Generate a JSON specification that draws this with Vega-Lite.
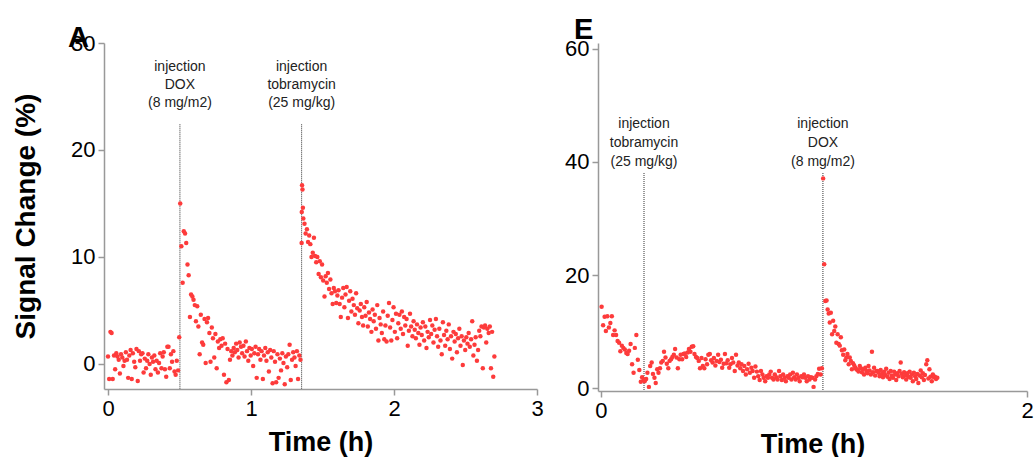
{
"$schema": "https://vega.github.io/schema/vega-lite/v6.json",
"background": "white",
"padding": {"left": 12, "top": 15, "right": 5, "bottom": 0},
"bounds": "flush",
"spacing": 61,
"config": {
 "font": "Liberation Sans",
 "view": {"stroke": null},
 "axis": {"grid": false, "domainColor": "#999999", "tickColor": "#999999", "domainWidth": 1.5, "tickWidth": 1.5, "tickSize": 6, "labelFont": "Liberation Sans", "labelFontSize": 22, "labelColor": "#000000", "labelPadding": 3, "labelFlush": false, "titleFont": "Liberation Sans", "titleFontSize": 27, "titleFontWeight": "bold", "titleColor": "#000000"},
 "axisX": {"titlePadding": 10},
 "axisY": {"titlePadding": 30, "titleFontSize": 28},
 "title": {"font": "Liberation Sans", "fontSize": 29, "fontWeight": "bold", "color": "#000000", "anchor": "start", "frame": "group"}
},
"datasets": {
 "a": [
{"t":0.000,"v":0.7},{"t":0.008,"v":-1.4},{"t":0.017,"v":3.0},{"t":0.025,"v":2.9},{"t":0.033,"v":-1.4},{"t":0.042,"v":0.8},{"t":0.050,"v":-0.5},{"t":0.058,"v":1.0},{"t":0.066,"v":0.7},{"t":0.075,"v":0.4},
{"t":0.083,"v":-0.9},{"t":0.091,"v":0.9},{"t":0.100,"v":0.6},{"t":0.108,"v":-0.2},{"t":0.116,"v":0.3},{"t":0.125,"v":1.1},{"t":0.133,"v":0.4},{"t":0.141,"v":-1.3},{"t":0.149,"v":0.8},{"t":0.158,"v":1.3},
{"t":0.166,"v":-1.4},{"t":0.174,"v":1.0},{"t":0.183,"v":0.2},{"t":0.191,"v":-0.3},{"t":0.199,"v":1.4},{"t":0.208,"v":-1.6},{"t":0.216,"v":1.2},{"t":0.224,"v":0.3},{"t":0.232,"v":0.9},{"t":0.241,"v":1.0},
{"t":0.249,"v":-0.8},{"t":0.257,"v":0.5},{"t":0.266,"v":-0.4},{"t":0.274,"v":0.3},{"t":0.282,"v":0.9},{"t":0.291,"v":0.0},{"t":0.299,"v":-1.0},{"t":0.307,"v":0.6},{"t":0.315,"v":0.2},{"t":0.324,"v":0.8},
{"t":0.332,"v":-0.5},{"t":0.340,"v":0.3},{"t":0.349,"v":-0.8},{"t":0.357,"v":0.1},{"t":0.365,"v":1.0},{"t":0.374,"v":-0.4},{"t":0.382,"v":0.7},{"t":0.390,"v":1.1},{"t":0.398,"v":-0.5},{"t":0.407,"v":-1.2},
{"t":0.415,"v":1.6},{"t":0.423,"v":1.6},{"t":0.432,"v":-0.4},{"t":0.440,"v":0.9},{"t":0.448,"v":0.2},{"t":0.457,"v":1.2},{"t":0.465,"v":-0.7},{"t":0.473,"v":-1.0},{"t":0.481,"v":0.3},{"t":0.490,"v":-0.6},
{"t":0.498,"v":2.5},
{"t":0.505,"v":15.0},{"t":0.513,"v":11.0},{"t":0.522,"v":7.6},{"t":0.530,"v":12.4},{"t":0.539,"v":12.2},{"t":0.547,"v":11.3},{"t":0.556,"v":9.3},{"t":0.564,"v":8.3},{"t":0.573,"v":4.4},{"t":0.581,"v":6.5},
{"t":0.590,"v":6.3},{"t":0.598,"v":6.0},{"t":0.607,"v":5.5},{"t":0.615,"v":4.0},{"t":0.624,"v":5.4},{"t":0.632,"v":3.5},{"t":0.641,"v":0.9},{"t":0.649,"v":4.6},{"t":0.658,"v":2.0},{"t":0.666,"v":1.8},
{"t":0.675,"v":4.2},{"t":0.683,"v":0.1},{"t":0.692,"v":3.9},{"t":0.700,"v":4.3},{"t":0.709,"v":2.9},{"t":0.717,"v":0.2},{"t":0.726,"v":3.4},{"t":0.734,"v":2.4},{"t":0.743,"v":0.6},{"t":0.751,"v":2.8},
{"t":0.760,"v":-0.4},{"t":0.768,"v":2.1},{"t":0.777,"v":1.5},{"t":0.785,"v":2.3},{"t":0.794,"v":1.7},{"t":0.802,"v":2.4},{"t":0.811,"v":-1.0},{"t":0.819,"v":1.9},{"t":0.828,"v":-1.7},{"t":0.836,"v":1.4},
{"t":0.845,"v":-1.5},{"t":0.853,"v":0.4},{"t":0.862,"v":1.2},{"t":0.870,"v":0.8},{"t":0.879,"v":1.5},{"t":0.887,"v":1.1},{"t":0.896,"v":1.9},{"t":0.904,"v":1.3},{"t":0.913,"v":0.6},{"t":0.921,"v":2.0},
{"t":0.930,"v":1.6},{"t":0.938,"v":1.0},{"t":0.947,"v":1.7},{"t":0.955,"v":0.7},{"t":0.964,"v":2.1},{"t":0.972,"v":1.2},{"t":0.981,"v":0.3},{"t":0.989,"v":1.5},{"t":0.998,"v":0.8},{"t":1.006,"v":1.4},
{"t":1.015,"v":-0.2},{"t":1.023,"v":1.0},{"t":1.032,"v":1.6},{"t":1.040,"v":-1.3},{"t":1.049,"v":0.9},{"t":1.057,"v":1.4},{"t":1.066,"v":0.4},{"t":1.074,"v":1.2},{"t":1.083,"v":-1.4},{"t":1.091,"v":0.8},
{"t":1.100,"v":1.5},{"t":1.108,"v":0.3},{"t":1.117,"v":1.1},{"t":1.125,"v":-0.7},{"t":1.134,"v":1.3},{"t":1.142,"v":0.6},{"t":1.151,"v":-1.8},{"t":1.159,"v":1.2},{"t":1.168,"v":0.2},{"t":1.176,"v":-1.7},
{"t":1.185,"v":0.9},{"t":1.193,"v":-1.3},{"t":1.202,"v":0.5},{"t":1.210,"v":-0.6},{"t":1.219,"v":1.0},{"t":1.227,"v":0.1},{"t":1.236,"v":-1.9},{"t":1.244,"v":0.7},{"t":1.253,"v":-0.3},{"t":1.261,"v":0.9},
{"t":1.270,"v":1.8},{"t":1.278,"v":-1.5},{"t":1.287,"v":0.4},{"t":1.295,"v":1.1},{"t":1.304,"v":0.6},{"t":1.312,"v":-0.2},{"t":1.321,"v":1.2},{"t":1.329,"v":-1.4},{"t":1.338,"v":0.8},{"t":1.346,"v":0.4},
{"t":1.354,"v":11.3},{"t":1.355,"v":14.2},{"t":1.357,"v":16.7},{"t":1.360,"v":16.3},{"t":1.363,"v":14.6},
{"t":1.366,"v":13.6},{"t":1.374,"v":13.1},{"t":1.382,"v":12.2},{"t":1.391,"v":12.6},{"t":1.399,"v":11.4},{"t":1.407,"v":12.0},{"t":1.415,"v":11.2},{"t":1.423,"v":10.0},{"t":1.432,"v":10.4},{"t":1.440,"v":11.8},
{"t":1.448,"v":10.1},{"t":1.456,"v":9.5},{"t":1.464,"v":10.0},{"t":1.473,"v":8.4},{"t":1.481,"v":9.6},{"t":1.489,"v":8.1},{"t":1.497,"v":9.3},{"t":1.505,"v":7.8},{"t":1.514,"v":6.3},{"t":1.522,"v":8.2},
{"t":1.530,"v":7.6},{"t":1.538,"v":8.5},{"t":1.546,"v":7.0},{"t":1.555,"v":7.9},{"t":1.563,"v":6.6},{"t":1.571,"v":5.6},{"t":1.579,"v":7.1},{"t":1.587,"v":6.8},{"t":1.596,"v":5.7},{"t":1.604,"v":6.4},
{"t":1.612,"v":6.9},{"t":1.620,"v":5.6},{"t":1.628,"v":4.4},{"t":1.637,"v":6.2},{"t":1.645,"v":7.1},{"t":1.653,"v":5.3},{"t":1.661,"v":6.5},{"t":1.669,"v":7.2},{"t":1.678,"v":4.3},{"t":1.686,"v":5.9},
{"t":1.694,"v":6.8},{"t":1.702,"v":4.9},{"t":1.710,"v":6.1},{"t":1.719,"v":5.5},{"t":1.727,"v":4.6},{"t":1.735,"v":6.6},{"t":1.743,"v":5.2},{"t":1.751,"v":3.8},{"t":1.760,"v":5.0},{"t":1.768,"v":5.6},
{"t":1.776,"v":4.4},{"t":1.784,"v":3.6},{"t":1.792,"v":5.3},{"t":1.801,"v":4.5},{"t":1.809,"v":5.8},{"t":1.817,"v":3.5},{"t":1.825,"v":4.8},{"t":1.833,"v":4.2},{"t":1.842,"v":3.0},{"t":1.850,"v":5.1},
{"t":1.858,"v":4.0},{"t":1.866,"v":4.6},{"t":1.874,"v":3.3},{"t":1.883,"v":5.5},{"t":1.891,"v":2.2},{"t":1.899,"v":4.3},{"t":1.907,"v":3.7},{"t":1.915,"v":2.9},{"t":1.924,"v":4.9},{"t":1.932,"v":2.3},
{"t":1.940,"v":3.6},{"t":1.948,"v":2.1},{"t":1.956,"v":4.5},{"t":1.965,"v":5.7},{"t":1.973,"v":3.4},{"t":1.981,"v":2.2},{"t":1.989,"v":4.1},{"t":1.997,"v":5.3},{"t":2.006,"v":3.0},{"t":2.014,"v":4.7},
{"t":2.022,"v":2.4},{"t":2.030,"v":3.8},{"t":2.038,"v":4.6},{"t":2.047,"v":3.3},{"t":2.055,"v":4.9},{"t":2.063,"v":2.8},{"t":2.071,"v":4.4},{"t":2.079,"v":3.6},{"t":2.088,"v":4.2},{"t":2.096,"v":1.7},
{"t":2.104,"v":3.1},{"t":2.112,"v":4.7},{"t":2.120,"v":3.5},{"t":2.129,"v":2.6},{"t":2.137,"v":4.0},{"t":2.145,"v":3.2},{"t":2.153,"v":2.4},{"t":2.161,"v":3.7},{"t":2.170,"v":2.9},{"t":2.178,"v":1.8},
{"t":2.186,"v":3.4},{"t":2.194,"v":2.7},{"t":2.202,"v":3.9},{"t":2.211,"v":2.2},{"t":2.219,"v":3.5},{"t":2.227,"v":1.5},{"t":2.235,"v":3.0},{"t":2.243,"v":2.5},{"t":2.252,"v":4.1},{"t":2.260,"v":2.8},
{"t":2.268,"v":3.6},{"t":2.276,"v":2.0},{"t":2.284,"v":3.2},{"t":2.293,"v":4.2},{"t":2.301,"v":2.6},{"t":2.309,"v":1.6},{"t":2.317,"v":3.3},{"t":2.325,"v":2.2},{"t":2.334,"v":0.9},{"t":2.342,"v":3.9},
{"t":2.350,"v":2.7},{"t":2.358,"v":1.7},{"t":2.366,"v":3.1},{"t":2.375,"v":2.3},{"t":2.383,"v":3.7},{"t":2.391,"v":1.4},{"t":2.399,"v":2.6},{"t":2.407,"v":0.5},{"t":2.416,"v":3.0},{"t":2.424,"v":2.1},
{"t":2.432,"v":2.8},{"t":2.440,"v":1.1},{"t":2.448,"v":2.4},{"t":2.457,"v":3.3},{"t":2.465,"v":1.7},{"t":2.473,"v":2.6},{"t":2.481,"v":-0.1},{"t":2.489,"v":2.2},{"t":2.498,"v":1.3},{"t":2.506,"v":2.5},
{"t":2.514,"v":1.9},{"t":2.522,"v":2.9},{"t":2.530,"v":1.6},{"t":2.539,"v":2.3},{"t":2.547,"v":4.0},{"t":2.555,"v":0.8},{"t":2.563,"v":1.8},{"t":2.571,"v":2.5},{"t":2.580,"v":0.3},{"t":2.588,"v":1.3},
{"t":2.596,"v":3.1},{"t":2.604,"v":2.6},{"t":2.612,"v":3.5},{"t":2.621,"v":-0.4},{"t":2.629,"v":3.4},{"t":2.637,"v":3.6},{"t":2.645,"v":2.0},{"t":2.653,"v":3.3},{"t":2.662,"v":2.9},{"t":2.670,"v":3.5},
{"t":2.678,"v":-0.4},{"t":2.686,"v":3.0},{"t":2.694,"v":-1.2},{"t":2.702,"v":0.7}
 ],
 "e": [
{"t":0.003,"v":14.4},{"t":0.010,"v":11.1},{"t":0.017,"v":12.6},{"t":0.023,"v":10.1},{"t":0.030,"v":12.7},{"t":0.037,"v":10.7},{"t":0.044,"v":11.5},{"t":0.051,"v":12.7},{"t":0.057,"v":9.4},{"t":0.064,"v":10.2},
{"t":0.071,"v":9.4},{"t":0.078,"v":8.3},{"t":0.085,"v":8.0},{"t":0.091,"v":6.5},{"t":0.098,"v":7.5},{"t":0.105,"v":7.1},{"t":0.112,"v":6.8},{"t":0.119,"v":6.2},{"t":0.125,"v":6.0},{"t":0.132,"v":6.6},
{"t":0.139,"v":7.8},{"t":0.146,"v":4.2},{"t":0.153,"v":2.7},{"t":0.159,"v":7.1},{"t":0.166,"v":9.4},{"t":0.173,"v":5.0},{"t":0.180,"v":3.2},{"t":0.187,"v":1.1},{"t":0.193,"v":1.9},{"t":0.200,"v":1.4},
{"t":0.205,"v":1.2},{"t":0.212,"v":1.6},{"t":0.218,"v":2.7},{"t":0.225,"v":0.2},{"t":0.231,"v":3.9},{"t":0.238,"v":4.5},{"t":0.244,"v":2.5},{"t":0.251,"v":1.8},{"t":0.257,"v":0.9},{"t":0.264,"v":3.3},
{"t":0.270,"v":2.7},{"t":0.277,"v":3.5},{"t":0.283,"v":4.5},{"t":0.290,"v":4.8},{"t":0.296,"v":6.4},{"t":0.303,"v":5.4},{"t":0.309,"v":4.3},{"t":0.316,"v":3.5},{"t":0.322,"v":4.8},{"t":0.329,"v":5.1},
{"t":0.335,"v":5.5},{"t":0.342,"v":5.9},{"t":0.348,"v":6.9},{"t":0.355,"v":5.4},{"t":0.361,"v":3.5},{"t":0.368,"v":5.1},{"t":0.374,"v":5.9},{"t":0.381,"v":5.1},{"t":0.387,"v":6.0},{"t":0.394,"v":6.1},
{"t":0.400,"v":5.5},{"t":0.407,"v":6.3},{"t":0.413,"v":6.9},{"t":0.420,"v":6.4},{"t":0.426,"v":7.3},{"t":0.433,"v":7.4},{"t":0.439,"v":6.0},{"t":0.446,"v":5.5},{"t":0.452,"v":5.3},{"t":0.459,"v":4.8},
{"t":0.465,"v":3.5},{"t":0.472,"v":5.3},{"t":0.478,"v":3.9},{"t":0.485,"v":3.5},{"t":0.491,"v":5.1},{"t":0.498,"v":4.2},{"t":0.504,"v":5.9},{"t":0.511,"v":6.0},{"t":0.517,"v":4.9},{"t":0.524,"v":4.5},
{"t":0.530,"v":5.3},{"t":0.537,"v":4.0},{"t":0.543,"v":4.8},{"t":0.550,"v":5.9},{"t":0.556,"v":4.6},{"t":0.563,"v":5.0},{"t":0.569,"v":3.6},{"t":0.576,"v":4.3},{"t":0.582,"v":6.0},{"t":0.589,"v":4.4},
{"t":0.595,"v":4.9},{"t":0.602,"v":3.6},{"t":0.608,"v":4.2},{"t":0.615,"v":5.3},{"t":0.621,"v":4.5},{"t":0.628,"v":3.0},{"t":0.634,"v":5.9},{"t":0.641,"v":4.0},{"t":0.647,"v":4.5},{"t":0.654,"v":3.5},
{"t":0.660,"v":4.2},{"t":0.667,"v":3.0},{"t":0.673,"v":3.9},{"t":0.680,"v":2.4},{"t":0.686,"v":3.3},{"t":0.693,"v":4.3},{"t":0.699,"v":2.7},{"t":0.706,"v":3.6},{"t":0.712,"v":3.0},{"t":0.719,"v":1.8},
{"t":0.725,"v":3.8},{"t":0.732,"v":2.9},{"t":0.738,"v":2.1},{"t":0.745,"v":1.4},{"t":0.751,"v":3.0},{"t":0.758,"v":2.4},{"t":0.764,"v":1.8},{"t":0.771,"v":1.2},{"t":0.777,"v":2.1},{"t":0.784,"v":1.8},
{"t":0.790,"v":2.4},{"t":0.797,"v":2.9},{"t":0.803,"v":1.8},{"t":0.810,"v":1.5},{"t":0.816,"v":2.4},{"t":0.823,"v":1.9},{"t":0.829,"v":1.5},{"t":0.836,"v":3.0},{"t":0.842,"v":2.1},{"t":0.849,"v":1.4},
{"t":0.855,"v":2.4},{"t":0.862,"v":1.8},{"t":0.868,"v":1.2},{"t":0.875,"v":2.1},{"t":0.881,"v":1.8},{"t":0.888,"v":2.4},{"t":0.894,"v":1.5},{"t":0.901,"v":2.7},{"t":0.907,"v":1.9},{"t":0.914,"v":1.5},
{"t":0.920,"v":2.4},{"t":0.927,"v":1.8},{"t":0.933,"v":1.2},{"t":0.940,"v":2.1},{"t":0.946,"v":1.9},{"t":0.953,"v":2.4},{"t":0.959,"v":1.8},{"t":0.966,"v":1.2},{"t":0.972,"v":2.1},{"t":0.979,"v":1.5},
{"t":0.985,"v":1.9},{"t":0.992,"v":1.8},{"t":0.998,"v":0.2},{"t":1.005,"v":1.5},{"t":1.011,"v":2.1},{"t":1.018,"v":2.5},{"t":1.024,"v":3.4},{"t":1.031,"v":2.4},{"t":1.037,"v":3.5},
{"t":1.043,"v":37.1},{"t":1.048,"v":21.9},{"t":1.053,"v":15.4},{"t":1.059,"v":15.5},{"t":1.064,"v":13.9},{"t":1.069,"v":13.2},{"t":1.074,"v":11.6},{"t":1.079,"v":13.3},{"t":1.085,"v":9.5},{"t":1.090,"v":11.9},
{"t":1.095,"v":10.1},{"t":1.100,"v":10.9},{"t":1.105,"v":8.0},{"t":1.111,"v":9.5},{"t":1.116,"v":7.8},{"t":1.121,"v":7.5},{"t":1.126,"v":9.0},{"t":1.131,"v":6.7},{"t":1.137,"v":5.9},{"t":1.142,"v":6.8},
{"t":1.147,"v":4.9},{"t":1.152,"v":5.4},{"t":1.157,"v":6.0},{"t":1.163,"v":4.2},{"t":1.168,"v":5.4},{"t":1.173,"v":4.8},{"t":1.178,"v":3.3},{"t":1.183,"v":4.4},{"t":1.189,"v":4.0},{"t":1.194,"v":3.6},
{"t":1.199,"v":3.3},{"t":1.204,"v":3.2},{"t":1.209,"v":2.9},{"t":1.215,"v":3.9},{"t":1.220,"v":3.5},{"t":1.225,"v":2.8},{"t":1.230,"v":3.3},{"t":1.235,"v":2.4},{"t":1.241,"v":3.6},{"t":1.246,"v":3.0},
{"t":1.251,"v":2.6},{"t":1.256,"v":3.9},{"t":1.261,"v":3.1},{"t":1.267,"v":2.4},{"t":1.272,"v":6.4},{"t":1.277,"v":2.8},{"t":1.282,"v":3.6},{"t":1.287,"v":2.2},{"t":1.293,"v":3.0},{"t":1.298,"v":3.0},
{"t":1.303,"v":2.7},{"t":1.308,"v":2.1},{"t":1.313,"v":3.2},{"t":1.319,"v":2.5},{"t":1.324,"v":1.9},{"t":1.329,"v":2.9},{"t":1.334,"v":2.3},{"t":1.339,"v":3.4},{"t":1.345,"v":2.0},{"t":1.350,"v":2.7},
{"t":1.355,"v":1.6},{"t":1.360,"v":3.0},{"t":1.365,"v":2.2},{"t":1.371,"v":1.8},{"t":1.376,"v":2.9},{"t":1.381,"v":2.4},{"t":1.386,"v":1.4},{"t":1.391,"v":2.6},{"t":1.397,"v":2.1},{"t":1.402,"v":3.0},
{"t":1.407,"v":4.5},{"t":1.412,"v":2.5},{"t":1.417,"v":1.9},{"t":1.423,"v":2.8},{"t":1.428,"v":2.2},{"t":1.433,"v":1.5},{"t":1.438,"v":2.6},{"t":1.443,"v":2.0},{"t":1.449,"v":2.9},{"t":1.454,"v":1.8},
{"t":1.459,"v":2.4},{"t":1.464,"v":1.2},{"t":1.469,"v":2.7},{"t":1.475,"v":2.1},{"t":1.480,"v":1.6},{"t":1.485,"v":2.5},{"t":1.490,"v":0.9},{"t":1.495,"v":2.2},{"t":1.501,"v":3.1},{"t":1.506,"v":1.9},
{"t":1.511,"v":2.6},{"t":1.516,"v":1.4},{"t":1.521,"v":2.3},{"t":1.527,"v":4.2},{"t":1.532,"v":4.9},{"t":1.537,"v":1.7},{"t":1.542,"v":3.3},{"t":1.547,"v":2.0},{"t":1.553,"v":1.2},{"t":1.558,"v":2.4},
{"t":1.563,"v":1.9},{"t":1.568,"v":2.0},{"t":1.573,"v":1.6},{"t":1.579,"v":1.8}
 ],
 "anna": [
  {"t": 0.503, "top": 22.4, "ty": 27.1, "label": "injection\nDOX\n(8 mg/m2)"},
  {"t": 1.354, "top": 22.4, "ty": 27.1, "label": "injection\ntobramycin\n(25 mg/kg)"}
 ],
 "anne": [
  {"t": 0.202, "top": 38.05, "ty": 45.4, "label": "injection\ntobramycin\n(25 mg/kg)"},
  {"t": 1.042, "top": 38.05, "ty": 45.4, "label": "injection\nDOX\n(8 mg/m2)"}
 ]
},
"hconcat": [
 {
  "title": {"text": "A", "dx": -36, "dy": 44, "baseline": "alphabetic", "offset": 0},
  "width": 433, "height": 346,
  "layer": [
   {"data": {"name": "anna"}, "mark": {"type": "rule", "color": "#333333", "strokeWidth": 1, "strokeDash": [1, 1]},
    "encoding": {"x": {"field": "t", "type": "quantitative", "scale": {"domain": [-0.028, 3], "nice": false}}, "y": {"field": "top", "type": "quantitative", "scale": {"domain": [-2.34, 30], "nice": false, "zero": false}}, "y2": {"datum": -2.34}}},
   {"data": {"name": "a"}, "mark": {"type": "circle", "size": 20, "color": "#fd3b3b", "opacity": 1},
    "encoding": {
     "x": {"field": "t", "type": "quantitative", "scale": {"domain": [-0.028, 3], "nice": false}, "axis": {"values": [0, 1, 2, 3], "title": "Time (h)", "format": "d"}},
     "y": {"field": "v", "type": "quantitative", "scale": {"domain": [-2.34, 30], "nice": false, "zero": false}, "axis": {"values": [0, 10, 20, 30], "title": "Signal Change (%)", "format": "d"}}
    }},
   {"data": {"name": "anna"}, "mark": {"type": "text", "lineBreak": "\n", "align": "center", "baseline": "bottom", "font": "Liberation Sans", "fontSize": 14, "lineHeight": 18, "color": "#222222"},
    "encoding": {"x": {"field": "t", "type": "quantitative"}, "y": {"field": "ty", "type": "quantitative"}, "text": {"field": "label"}}}
  ]
 },
 {
  "title": {"text": "E", "dx": -24, "dy": 30, "baseline": "alphabetic", "offset": 0},
  "width": 429, "height": 348,
  "layer": [
   {"data": {"name": "anne"}, "mark": {"type": "rule", "color": "#333333", "strokeWidth": 1, "strokeDash": [1, 1]},
    "encoding": {"x": {"field": "t", "type": "quantitative", "scale": {"domain": [-0.014, 2], "nice": false}}, "y": {"field": "top", "type": "quantitative", "scale": {"domain": [-0.53, 61.06], "nice": false, "zero": false}}, "y2": {"datum": -0.53}}},
   {"data": {"name": "e"}, "mark": {"type": "circle", "size": 20, "color": "#fd3b3b", "opacity": 1},
    "encoding": {
     "x": {"field": "t", "type": "quantitative", "scale": {"domain": [-0.014, 2], "nice": false}, "axis": {"values": [0, 1, 2], "title": "Time (h)", "format": "d"}},
     "y": {"field": "v", "type": "quantitative", "scale": {"domain": [-0.53, 61.06], "nice": false, "zero": false}, "axis": {"values": [0, 20, 40, 60], "title": null, "format": "d"}}
    }},
   {"data": {"name": "anne"}, "mark": {"type": "text", "lineBreak": "\n", "align": "center", "baseline": "bottom", "font": "Liberation Sans", "fontSize": 14, "lineHeight": 19, "color": "#222222"},
    "encoding": {"x": {"field": "t", "type": "quantitative"}, "y": {"field": "ty", "type": "quantitative"}, "text": {"field": "label"}}}
  ]
 }
]
}
